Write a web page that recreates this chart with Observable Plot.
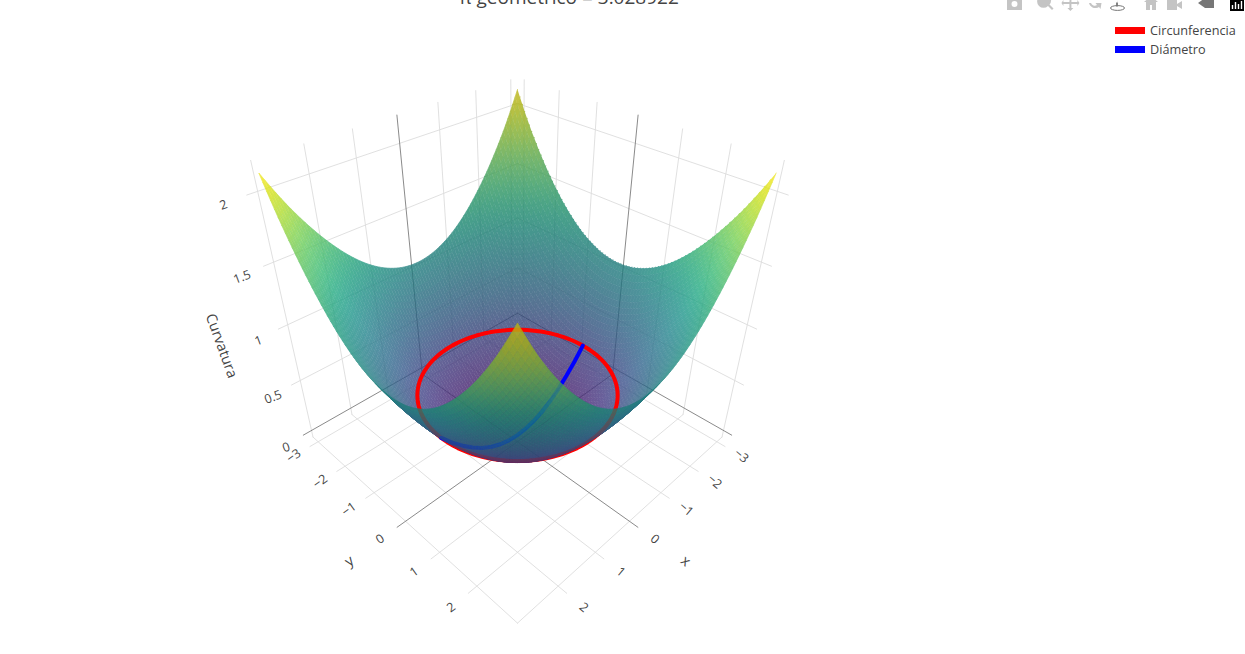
<!DOCTYPE html>
<html><head><meta charset="utf-8">
<script src="https://cdn.jsdelivr.net/npm/d3@7"></script>
<script src="https://cdn.jsdelivr.net/npm/@observablehq/plot@0.6"></script>
<style>
html,body{margin:0;padding:0;background:#fff;width:1245px;height:654px;overflow:hidden}
#wrap{position:relative;width:1245px;height:654px;overflow:hidden;font-family:"Open Sans",sans-serif;color:#444}
#title{position:absolute;left:369px;width:400px;top:-16px;text-align:center;font-size:19px;white-space:nowrap}
.lg{position:absolute;left:1150px;font-size:12.7px;line-height:14px}
.sw{position:absolute;left:1115px;width:30px;height:7px}
#bar{position:absolute;left:1000px;top:0}
#chart{position:absolute;left:0;top:0}
g.bowl{opacity:.8}
</style></head>
<body><div id="wrap">
<div id="chart"></div>
<div id="title">π geométrico = 3.028922</div>
<svg id="bar" width="245" height="14" viewBox="1000 0 245 14">
 <g fill="#c4c4c4">
  <path d="M1007 -2h15v12h-15zM1011.5 4a3 3 0 1 0 6 0a3 3 0 1 0-6 0z" fill-rule="evenodd"/>
  <path d="M1039 -3a6 6 0 1 0 9 9l4 4l1.5-1.5l-4-4a6 6 0 0 0-1-9z"/>
  <path d="M1069.8 -2h1.6v4h6v-2l2 3l-2 3v-2h-6v4h2l-3 3l-3-3h2v-4h-6v2l-2-3l2-3v2h6z"/>
  <path d="M1089 3a6.5 6.5 0 0 0 10 4l1.5 2l1-6h-6l1.5 2a4 4 0 0 1-6-2z"/>
  <path d="M1144 2l7-6l7 6h-2v8h-4v-5h-2v5h-4v-8z"/>
  <path d="M1167 0h10v10h-10zM1177 4l5-3v8l-5-3z"/>
 </g>
 <path d="M1117 2.5v4M1117 1.5h.1" stroke="#666" stroke-width="1.6" fill="none"/>
 <ellipse cx="1117.5" cy="8" rx="7" ry="2.4" fill="none" stroke="#777" stroke-width="1"/>
 <path d="M1198 3l7-5h9v10h-9z" fill="#777"/>
 <rect x="1230" y="-2" width="14" height="13" fill="#000"/>
 <path d="M1232.5 5v4M1235.5 2v7M1238.5 4v5M1241.5 1v8" stroke="#fff" stroke-width="1.4"/>
</svg>
<div class="sw" style="top:27px;background:#f00"></div>
<div class="lg" style="top:23px">Circunferencia</div>
<div class="sw" style="top:46px;background:#00f"></div>
<div class="lg" style="top:42px">Diámetro</div>
</div>
<script>
// ---- values ----
const xTicks = [-3, -2, -1, 0, 1, 2];
const yTicks = [-3, -2, -1, 0, 1, 2];
const zTicks = [0, 0.5, 1, 1.5, 2];
const xTickLabels = ["−3", "−2", "−1", "0", "1", "2"];
const yTickLabels = ["−3", "−2", "−1", "0", "1", "2"];
const zTickLabels = ["0", "0.5", "1", "1.5", "2"];
const axisNames = ["x", "y", "Curvatura"];
// surface height read along a radius from the bottom of the bowl
const radii =     [0, 0.5,  1,    1.5,  2,    2.5,  3,    3.5,  4,    4.25];
const curvature = [0, 0.03, 0.12, 0.27, 0.47, 0.74, 1.07, 1.46, 1.90, 2.15];
const circleRadius = 2;
const diameterX = [-2, -1.75, -1.5, -1.25, -1, -0.75, -0.5, -0.25, 0, 0.25, 0.5, 0.75, 1, 1.25, 1.5, 1.75, 2];

// ---- axis box and camera of the 3D view ----
const xMin = -3.2, xMax = 3, yMin = -3.2, yMax = 3, zMin = -0.07, zMax = 2.2;
const tickEnd = 3.2;
const cam = {w0: 0.996, wz: -0.104, wt: -0.22, y0: 432.9, yz: -139.8, yt: 45};
function project(x, y, z) {
  const s = (y - x) / 6, t = (x + y) / 6;
  const w = cam.w0 + cam.wz * z + cam.wt * t;
  return {px: s / w, py: (cam.y0 + cam.yz * z + cam.yt * t) / w};
}
// height lookup: the table is read as a function of r², in which the bowl is nearly straight
function height(x, y) {
  const r = Math.hypot(x, y);
  const i = Math.min(radii.length - 2, d3.bisectRight(radii, r) - 1);
  const a = radii[i] ** 2, b = radii[i + 1] ** 2;
  return curvature[i] + (curvature[i + 1] - curvature[i]) * (r * r - a) / (b - a);
}

// ---- surface mesh, split into the inside of the bowl and the outside fold ----
const zTop = curvature[curvature.length - 1];
const N = 84, edge = 3, inner = [], outer = [];
let cellId = 0;
for (let i = 0; i < N; i++) for (let j = 0; j < N; j++) {
  const x0 = -edge + 2 * edge * i / N, x1 = -edge + 2 * edge * (i + 1) / N;
  const y0 = -edge + 2 * edge * j / N, y1 = -edge + 2 * edge * (j + 1) / N;
  const corners = [[x0, y0], [x1, y0], [x1, y1], [x0, y1]];
  const pts = corners.map(([x, y]) => project(x, y, height(x, y)));
  let area = 0;
  pts.forEach((p, k) => { const q = pts[(k + 1) % 4]; area += p.px * q.py - q.px * p.py; });
  const xm = (x0 + x1) / 2, ym = (y0 + y1) / 2, zm = height(xm, ym), r = Math.hypot(xm, ym);
  const g = (height(xm * 1.02, ym * 1.02) - height(xm * 0.98, ym * 0.98)) / (0.04 * r || 1);
  const nH = g / Math.hypot(1, g), nT = Math.abs(xm + ym) / (Math.SQRT2 * (r || 1)) * nH;
  const shade = 1 - 0.3 * nT;
  const c = d3.rgb(d3.interpolateViridis(Math.max(0, zm / zTop)));
  const fillColor = `rgb(${c.r * shade | 0},${c.g * shade | 0},${c.b * shade | 0})`;
  const id = cellId++;
  const target = area < 0 ? inner : outer;
  pts.forEach(p => target.push({id, fillColor, ...p}));
}

// ---- grid lines ----
const light = [], dark = [];
function seg(list, a, b) { const id = list.length; list.push({id, ...project(...a)}, {id, ...project(...b)}); }
for (const v of xTicks) {
  const L = v === 0 ? dark : light;
  seg(L, [v, yMin, zMin], [v, tickEnd, zMin]);
  seg(L, [v, yMin, zMin], [v, yMin, zMax]);
}
for (const v of yTicks) {
  const L = v === 0 ? dark : light;
  seg(L, [xMin, v, zMin], [tickEnd, v, zMin]);
  seg(L, [xMin, v, zMin], [xMin, v, zMax]);
}
seg(light, [xMax, yMin, zMin], [xMax, yMax, zMin]);
seg(light, [xMin, yMax, zMin], [xMax, yMax, zMin]);
seg(light, [xMax, yMin, zMin], [xMax, yMin, zMax]);
seg(light, [xMin, yMax, zMin], [xMin, yMax, zMax]);
for (const v of zTicks) {
  const L = v === 0 ? dark : light;
  seg(L, [tickEnd, yMin, v], [xMin, yMin, v]);
  seg(L, [xMin, yMin, v], [xMin, tickEnd, v]);
}

// ---- circle and diameter on the surface ----
const circle = d3.range(0, 362, 3).map(a => {
  const x = circleRadius * Math.cos(a * Math.PI / 180), y = circleRadius * Math.sin(a * Math.PI / 180);
  return project(x, y, height(x, y));
});
const diameter = diameterX.map(x => project(x, 0, height(x, 0)));

// ---- labels ----
const labels = [
  ...xTicks.map((v, i) => ({...project(v, 3.59, zMin), text: xTickLabels[i], rot: 40, size: 12.5})),
  ...yTicks.map((v, i) => ({...project(3.59, v, zMin), text: yTickLabels[i], rot: -35, size: 12.5})),
  ...zTicks.map((v, i) => ({...project(3.65, -3.13, v), text: zTickLabels[i], rot: -20, size: 12.5})),
  {...project(0, 4.27, zMin), text: axisNames[0], rot: 40, size: 14.5},
  {...project(4.27, 0, zMin), text: axisNames[1], rot: -35, size: 14.5},
  {...project(4.3, -3.2, 1.07), text: axisNames[2], rot: 70, size: 14.5}
];

const chart = Plot.plot({
  width: 1245, height: 654, margin: 0,
  x: {domain: [-517 / 200, (1245 - 517) / 200], range: [0, 1245], axis: null},
  y: {domain: [0, 654], range: [0, 654], axis: null},
  color: {type: "identity"},
  style: {background: "transparent", overflow: "visible"},
  marks: [
    Plot.line(light, {x: "px", y: "py", z: "id", stroke: "#dcdcdc", strokeWidth: 0.9}),
    Plot.line(dark, {x: "px", y: "py", z: "id", stroke: "#7d7d7d", strokeWidth: 0.9}),
    Plot.line(inner, {x: "px", y: "py", z: "id", fill: "fillColor", stroke: "fillColor", strokeWidth: 0.7, className: "bowl"}),
    Plot.line(circle, {x: "px", y: "py", stroke: "#ff0000", strokeWidth: 4}),
    Plot.line(diameter, {x: "px", y: "py", stroke: "#0000ff", strokeWidth: 4}),
    Plot.line(outer, {x: "px", y: "py", z: "id", fill: "fillColor", stroke: "fillColor", strokeWidth: 0.7, className: "bowl"}),
    Plot.text(labels, {x: "px", y: "py", text: "text", rotate: "rot", fontSize: "size", fill: "#444", fontFamily: "Open Sans"})
  ]
});
document.getElementById("chart").appendChild(chart);
</script>
</body></html>
